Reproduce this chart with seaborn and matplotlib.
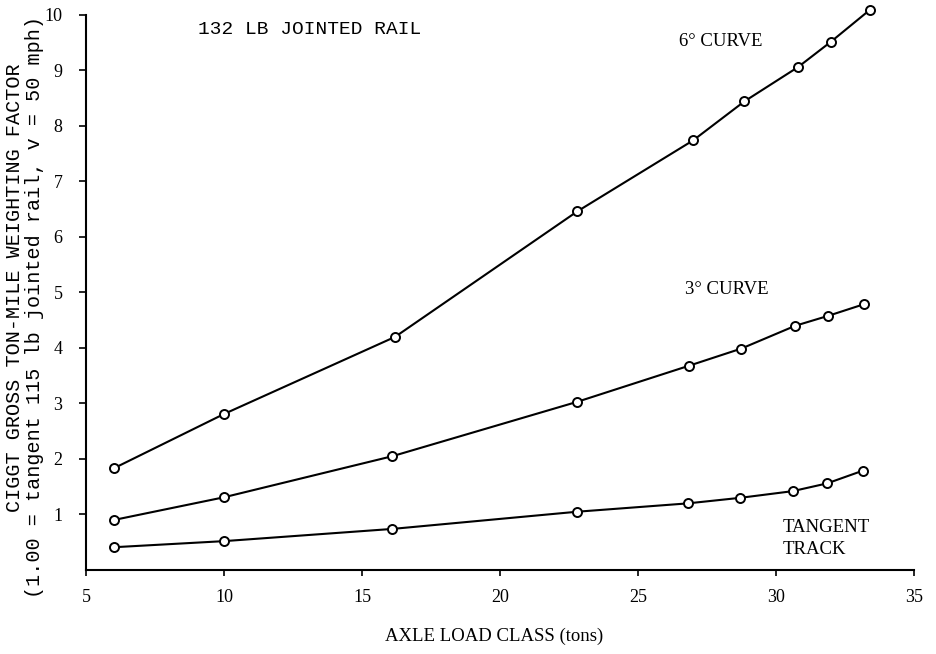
import matplotlib
matplotlib.use("Agg")
import matplotlib.pyplot as plt
import seaborn as sns
import pandas as pd

sns.set_theme(style="ticks")
plt.rcParams['font.family'] = ['Liberation Serif', 'DejaVu Serif']
plt.rcParams['text.color'] = 'black'
plt.rcParams['xtick.color'] = 'black'
plt.rcParams['ytick.color'] = 'black'

# values
x_curve6 = [6.0, 10.0, 16.2, 22.8, 27.0, 28.85, 30.8, 32.0, 33.4]
y_curve6 = [1.83, 2.81, 4.20, 6.46, 7.74, 8.44, 9.06, 9.52, 10.09]

x_curve3 = [6.0, 10.0, 16.1, 22.8, 26.85, 28.75, 30.7, 31.9, 33.2]
y_curve3 = [0.90, 1.31, 2.05, 3.03, 3.68, 3.99, 4.40, 4.58, 4.79]

x_tangent = [6.0, 10.0, 16.1, 22.8, 26.8, 28.7, 30.6, 31.85, 33.15]
y_tangent = [0.41, 0.52, 0.74, 1.05, 1.20, 1.30, 1.42, 1.56, 1.79]

xticks = [5, 10, 15, 20, 25, 30, 35]
yticks = [1, 2, 3, 4, 5, 6, 7, 8, 9, 10]

series = {
    "6° CURVE": (x_curve6, y_curve6),
    "3° CURVE": (x_curve3, y_curve3),
    "TANGENT TRACK": (x_tangent, y_tangent),
}

fig = plt.figure(figsize=(9.36, 6.54), dpi=100)
ax = fig.add_axes([86/936, 84/654, 828/936, 569/654])

for name, (xs, ys) in series.items():
    df = pd.DataFrame({"axle": xs, "factor": ys})
    sns.lineplot(data=df, x="axle", y="factor", ax=ax, color="black",
                 lw=1.5, marker="o", markersize=6.5, markerfacecolor="white",
                 markeredgecolor="black", markeredgewidth=1.4, clip_on=False)

ax.set_xlim(5, 35)
ax.set_ylim(0, 10.25)
ax.set_xticks(xticks)
ax.set_yticks(yticks)
ax.set_xticklabels([str(t) for t in xticks])
ax.set_yticklabels([str(t) for t in yticks])
ax.tick_params(axis="x", direction="out", length=4, width=1.2, pad=10,
               labelsize=13)
ax.tick_params(axis="y", direction="out", length=5, width=1.2, pad=12,
               labelsize=13)
ax.set_xlabel("")
ax.set_ylabel("")
for s in ("top", "right"):
    ax.spines[s].set_visible(False)
for s in ("left", "bottom"):
    ax.spines[s].set_linewidth(1.5)
    ax.spines[s].set_color("black")
ax.spines["left"].set_bounds(0, 10)

fig.text(494/936, 1 - 636/654, "AXLE LOAD CLASS (tons)", ha="center",
         va="center", fontsize=13.5)
fig.text(15/936, 1 - 288/654, "CIGGT GROSS TON-MILE WEIGHTING FACTOR",
         rotation=90, ha="center", va="center", fontsize=14.5,
         family="Liberation Mono")
fig.text(35/936, 1 - 307/654, "(1.00 = tangent 115 lb jointed rail, v = 50 mph)",
         rotation=90, ha="center", va="center", fontsize=14.5,
         family="Liberation Mono")

fig.text(198/936, 1 - 30/654, "132 LB JOINTED RAIL", ha="left", va="center",
         fontsize=14, family="Liberation Mono")
fig.text(679/936, 1 - 41/654, "6° CURVE", ha="left", va="center", fontsize=13.5)
fig.text(685/936, 1 - 290/654, "3° CURVE", ha="left", va="center", fontsize=13.5)
fig.text(783/936, 1 - 527/654, "TANGENT", ha="left", va="center", fontsize=13.5)
fig.text(783/936, 1 - 550/654, "TRACK", ha="left", va="center", fontsize=13.5)

fig.savefig("out.png", dpi=100, facecolor="white")
